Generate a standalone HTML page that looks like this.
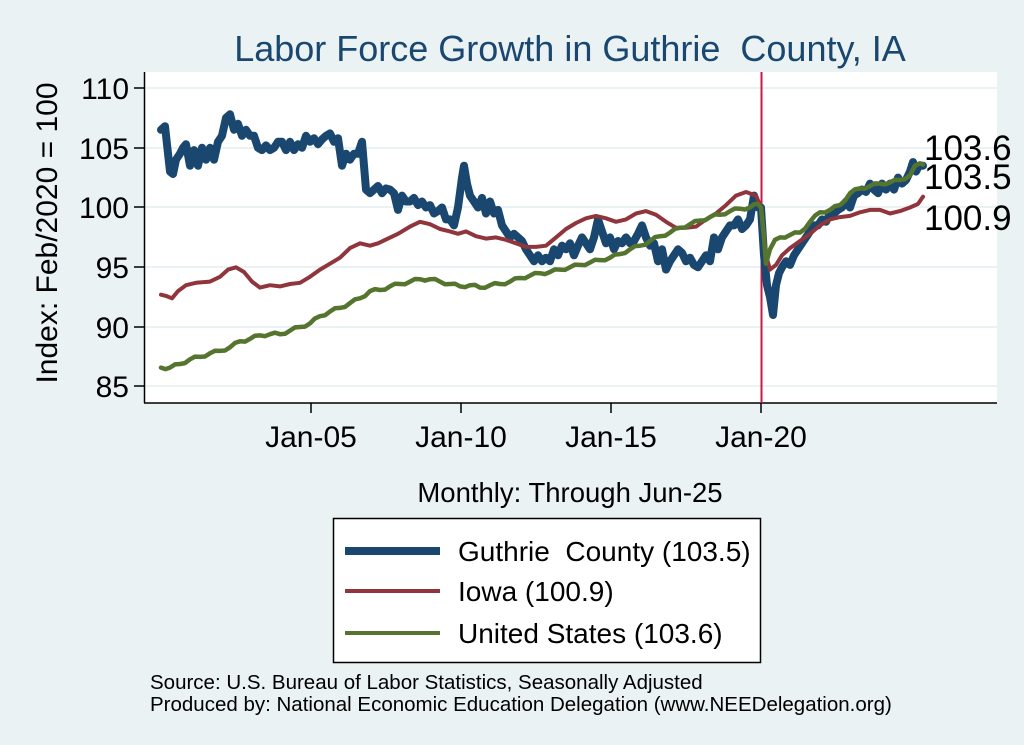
<!DOCTYPE html>
<html><head><meta charset="utf-8"><style>
html,body{margin:0;padding:0;background:#eaf2f3;}
svg{display:block;font-family:"Liberation Sans",Arial,sans-serif;}
</style></head><body>
<svg id="s" width="1024" height="745" viewBox="0 0 1024 745" xmlns="http://www.w3.org/2000/svg">
<rect x="0" y="0" width="1024" height="745" fill="#eaf2f3"/>
<rect x="145" y="72" width="852" height="331" fill="#ffffff"/>
<g stroke="#eaf2f3" stroke-width="2">
<line x1="145" x2="997" y1="88" y2="88"/><line x1="145" x2="997" y1="148" y2="148"/>
<line x1="145" x2="997" y1="207" y2="207"/><line x1="145" x2="997" y1="267" y2="267"/>
<line x1="145" x2="997" y1="327" y2="327"/><line x1="145" x2="997" y1="386" y2="386"/>
</g>
<g stroke="#000" stroke-width="1.5" fill="none">
<line x1="144.5" y1="72" x2="144.5" y2="403"/>
<line x1="144" y1="403" x2="997" y2="403"/>
<line x1="134" x2="144" y1="88" y2="88"/><line x1="134" x2="144" y1="148" y2="148"/>
<line x1="134" x2="144" y1="207" y2="207"/><line x1="134" x2="144" y1="267" y2="267"/>
<line x1="134" x2="144" y1="327" y2="327"/><line x1="134" x2="144" y1="386" y2="386"/>
<line y1="403" y2="413" x1="311" x2="311"/><line y1="403" y2="413" x1="461" x2="461"/>
<line y1="403" y2="413" x1="611" x2="611"/><line y1="403" y2="413" x1="761" x2="761"/>
</g>
<g font-size="30" text-anchor="end" fill="#000">
<text x="129" y="99">110</text><text x="129" y="159">105</text><text x="129" y="218">100</text>
<text x="129" y="278">95</text><text x="129" y="338">90</text><text x="129" y="397">85</text>
</g>
<g font-size="30" text-anchor="middle" fill="#000">
<text x="311" y="447">Jan-05</text><text x="461" y="447">Jan-10</text>
<text x="611" y="447">Jan-15</text><text x="761" y="447">Jan-20</text>
<text x="570" y="502" font-size="27.5">Monthly: Through Jun-25</text>
</g>
<text transform="translate(57,233) rotate(-90)" font-size="30" text-anchor="middle">Index: Feb/2020 = 100</text>
<text x="570" y="61" font-size="36" text-anchor="middle" fill="#1a476f">Labor Force Growth in Guthrie&#160; County, IA</text>
<line x1="761.5" y1="72" x2="761.5" y2="403" stroke="#c8194b" stroke-width="2"/>
<g id="series" fill="none" stroke-linejoin="round" stroke-linecap="round"></g>
<g font-size="35" fill="#000">
<text x="924" y="160">103.6</text><text x="924" y="189">103.5</text><text x="924" y="230">100.9</text>
</g>
<rect x="333.5" y="518.5" width="427" height="144" fill="#fff" stroke="#000" stroke-width="1.5"/>
<line x1="345" x2="440" y1="551" y2="551" stroke="#1a476f" stroke-width="8"/>
<line x1="345" x2="440" y1="591" y2="591" stroke="#90353b" stroke-width="4"/>
<line x1="345" x2="440" y1="633" y2="633" stroke="#55752f" stroke-width="4"/>
<g font-size="28" fill="#000">
<text x="458" y="561">Guthrie&#160; County (103.5)</text>
<text x="458" y="601">Iowa (100.9)</text>
<text x="458" y="643">United States (103.6)</text>
</g>
<g font-size="20.5" fill="#000">
<text x="150" y="689">Source: U.S. Bureau of Labor Statistics, Seasonally Adjusted</text>
<text x="150" y="711">Produced by: National Economic Education Delegation (www.NEEDelegation.org)</text>
</g>
</svg>
<script>
function Y(v){return 88+(110-v)*11.95;}
function P(a){var d="";for(var i=0;i<a.length;i+=2){d+=(i?"L":"M")+a[i]+","+Y(a[i+1]).toFixed(1);}return d;}
var g=[161,106.5,165,106.8,170,103,173,102.8,176,104,180,104.5,183,105,186,105.3,190,103.5,194,104.8,198,103.5,202,105,206,104,210,105,214,104,218,105.5,222,106,226,107.5,230,107.8,234,106.5,238,107,242,106,246,106.5,250,106,254,106,258,105,262,104.8,266,105.2,270,104.8,274,105,278,105.5,282,105.5,286,104.8,290,105.5,294,104.8,298,105.3,302,105,306,106,310,105.5,314,105.8,318,105.3,322,105.7,326,106,330,106.2,334,105.5,338,105.8,342,103.5,346,104.5,350,104,354,104.5,358,104.5,362,105.5,366,101.5,370,101.2,374,101.5,378,101.8,382,101.2,386,101.6,390,101.5,394,101.2,398,99.8,402,101,406,100.5,410,100.5,414,100.8,418,100.2,422,100.5,426,100,430,100.2,434,99.5,438,99.7,442,100,446,99,450,99,454,98.5,458,100,462,102.5,464,103.5,467,102,470,101,474,100.5,478,100,482,100.8,486,99.5,490,100.5,494,99.5,498,99.8,502,98.5,506,98,510,97.5,514,97.8,518,97.5,522,97.2,526,96.5,530,96,534,95.5,538,96,542,95.5,546,95.8,550,95.5,554,96.5,558,96,562,96.8,566,96.5,570,97,574,96,578,96.8,582,97.5,586,97,590,96.5,594,97.5,598,99,602,98,606,97,610,97.5,614,96.5,618,97.2,622,97,626,97.5,630,97,634,97.2,638,97.8,642,98.5,646,97.5,650,96.8,654,97,658,95.5,662,96.5,666,94.8,670,95.5,674,96,678,96.5,682,96.2,686,95.5,690,95.8,694,95.2,698,95,702,95.5,706,96,710,95.5,714,97.5,718,96.5,722,97.5,726,98,730,98.5,734,98.5,738,99,742,98.2,746,98.5,750,99,754,101,758,100,761,100,764,96,767,93.5,770,92.5,773,91,776,93.5,779,94.5,782,95,786,95.5,790,95.2,794,96,798,96.5,802,97,806,97.5,810,98,814,98.5,818,98.5,822,99,826,98.8,830,99.5,834,99.5,838,99.8,842,100,846,100.5,850,100,854,101,858,101.2,862,101.5,866,101.3,870,102,874,101.5,878,101.2,882,102,886,101.5,890,102,894,101.5,898,102.5,902,102,906,102.3,910,103,913,103.8,916,103,919,103.5,923,103.5];
var ia=[161,92.7,166,92.6,172,92.4,178,93,186,93.5,196,93.7,210,93.8,220,94.2,228,94.8,236,95,244,94.6,252,93.8,260,93.3,270,93.5,280,93.4,290,93.6,300,93.7,310,94.2,320,94.8,330,95.3,340,95.8,350,96.6,360,97,370,96.8,378,97,388,97.4,398,97.8,410,98.4,420,98.8,430,98.6,440,98.2,450,98,458,97.8,466,98,476,97.6,486,97.4,496,97.5,506,97.3,516,97,526,96.7,536,96.7,546,96.8,556,97.5,566,98.2,576,98.7,586,99.1,596,99.3,606,99.1,616,98.8,626,99,636,99.5,646,99.7,656,99.4,666,98.8,676,98.3,686,98.3,696,98.4,706,99,716,99.5,726,100.2,736,101,746,101.3,756,101,761,100,766,96,770,94.8,776,95.2,782,96,790,96.6,800,97.2,810,97.8,820,98.5,830,99,840,99.2,850,99.3,860,99.6,870,99.8,880,99.8,890,99.5,900,99.7,910,100,918,100.3,923,100.9];
var us0=[161,86.6,170,86.6,180,86.9,190,87.3,200,87.5,210,87.8,220,88,230,88.3,240,88.8,250,89,260,89.3,270,89.4,280,89.4,290,89.7,300,90,310,90.3,320,90.9,330,91.3,340,91.6,350,92,360,92.4,370,93,380,93.1,390,93.4,400,93.6,410,93.8,420,94,430,94,440,93.8,450,93.6,460,93.4,470,93.5,480,93.3,490,93.5,500,93.6,510,93.8,520,94.1,530,94.3,540,94.5,550,94.6,560,94.8,570,95,580,95.2,590,95.4,600,95.6,610,95.8,620,96.1,630,96.5,640,96.8,650,97.2,660,97.6,670,97.9,680,98.3,690,98.6,700,98.9,710,99.2,720,99.4,730,99.7,740,99.9,750,100,758,100.3,761,100,764,97.5,766,95.3,770,96.5,775,97.3,780,97.5,790,97.7,800,97.9,810,98.8,820,99.6,830,99.8,840,100.2,850,101.2,860,101.6,870,101.8,880,102,890,102.1,900,102.3,910,102.7,915,103.5,920,103.7,923,103.6];
var us=[];for(var i=0;i<us0.length;i+=2){us.push(us0[i],us0[i+1]);if(i+2<us0.length&&us0[i+2]-us0[i]>=8){var mx=(us0[i]+us0[i+2])/2,my=(us0[i+1]+us0[i+3])/2+((i/2)%2?0.12:-0.12);us.push(mx,my);}}
var s=document.getElementById("series");
s.innerHTML='<path d="'+P(g)+'" stroke="#1a476f" stroke-width="8"/>'+
'<path d="'+P(ia)+'" stroke="#90353b" stroke-width="4"/>'+
'<path d="'+P(us)+'" stroke="#55752f" stroke-width="4.5"/>';
</script>
</body></html>
